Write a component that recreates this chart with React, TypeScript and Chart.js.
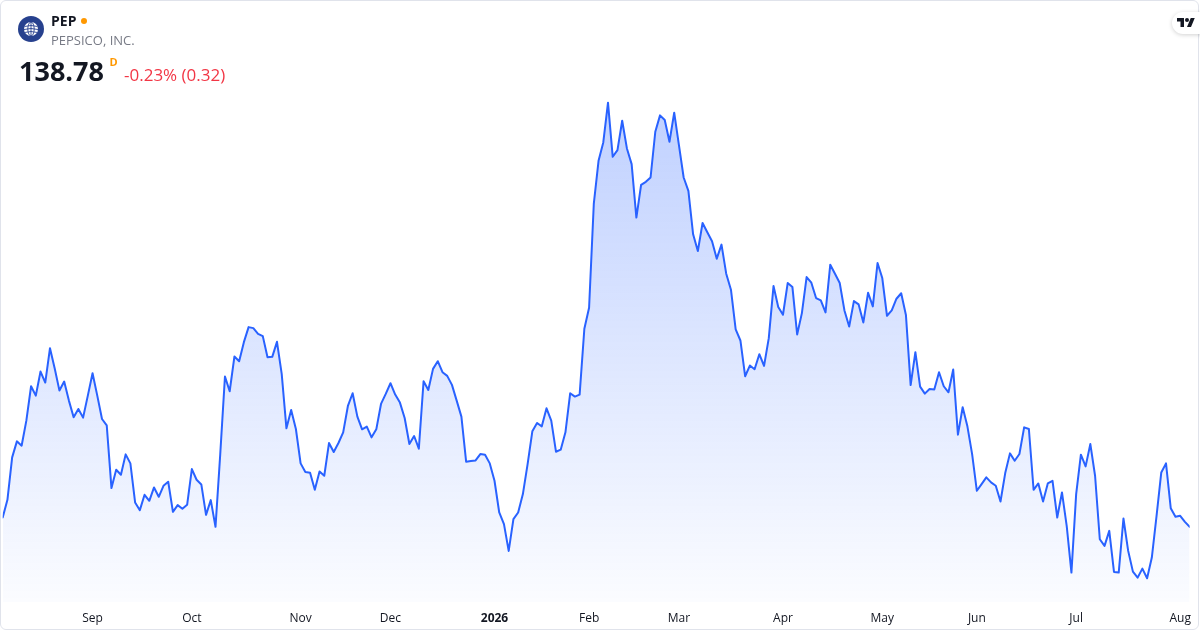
import React, { useEffect, useRef } from "react";
import { Chart, registerables } from "chart.js";

Chart.register(...registerables);

// Daily closes (Aug 2025 – Aug 2026)
const closes: number[] = [
  139.34, 140.40, 142.94, 143.90, 143.64, 145.14, 147.20, 146.64, 148.08, 147.42,
  149.48, 148.26, 146.94, 147.48, 146.34, 145.34, 145.84, 145.32, 146.64, 147.98,
  146.64, 145.24, 144.86, 141.10, 142.20, 141.90, 143.12, 142.58, 140.24, 139.78,
  140.70, 140.34, 141.14, 140.58, 141.24, 141.48, 139.68, 140.08, 139.86, 140.10,
  142.24, 141.60, 141.32, 139.50, 140.38, 138.78, 143.12, 147.78, 146.90, 148.98,
  148.70, 149.84, 150.74, 150.68, 150.34, 150.20, 148.94, 148.96, 149.86, 147.94,
  144.68, 145.78, 144.64, 142.58, 142.06, 142.02, 141.00, 142.10, 141.84, 143.80,
  143.26, 143.80, 144.44, 146.02, 146.78, 145.38, 144.62, 144.78, 144.14, 144.62,
  146.14, 146.74, 147.38, 146.70, 146.22, 145.30, 143.74, 144.22, 143.46, 147.50,
  146.98, 148.24, 148.70, 148.04, 147.82, 147.28, 146.34, 145.38, 142.68, 142.72,
  142.76, 143.14, 143.10, 142.58, 141.54, 139.64, 138.94, 137.34, 139.24, 139.64,
  140.74, 142.54, 144.50, 145.00, 144.80, 145.88, 145.14, 143.28, 143.40, 144.44,
  146.78, 146.58, 146.70, 150.64, 151.90, 158.14, 160.70, 161.80, 164.18, 160.94,
  161.34, 163.10, 161.44, 160.50, 157.30, 159.26, 159.44, 159.70, 162.44, 163.42,
  163.14, 161.84, 163.58, 161.64, 159.70, 158.90, 156.30, 155.30, 156.98, 156.42,
  155.88, 154.84, 155.68, 153.94, 152.98, 150.60, 149.94, 147.80, 148.44, 148.22,
  149.12, 148.42, 150.08, 153.20, 151.94, 151.48, 153.38, 153.14, 150.30, 151.58,
  153.74, 153.40, 152.48, 152.34, 151.62, 154.48, 153.94, 153.38, 151.74, 150.78,
  152.30, 152.10, 151.02, 152.80, 151.98, 154.58, 153.68, 151.42, 151.74, 152.44,
  152.77, 151.47, 147.27, 149.24, 147.18, 146.76, 147.04, 147.00, 148.04, 147.20,
  146.84, 148.20, 144.30, 145.94, 144.80, 143.14, 140.94, 141.34, 141.74, 141.44,
  141.24, 140.30, 142.00, 143.18, 142.74, 143.14, 144.74, 144.64, 141.00, 141.38,
  140.30, 141.38, 141.54, 139.34, 140.84, 138.84, 136.04, 140.74, 143.10, 142.40,
  143.74, 141.84, 138.04, 137.64, 138.54, 136.08, 136.04, 139.28, 137.34, 136.10,
  135.74, 136.28, 135.70, 136.94, 139.44, 142.04, 142.58, 139.90, 139.38, 139.44,
  139.08, 138.78,
];

// Index of the first trading day of each month, and its label
const monthTickIndex: number[] = [19, 40, 63, 82, 104, 124, 143, 165, 186, 206, 227, 249];
const monthTickLabels: string[] = ["Sep", "Oct", "Nov", "Dec", "2026", "Feb", "Mar", "Apr", "May", "Jun", "Jul", "Aug"];
const yearTickLabels: string[] = ["2026"];

const symbol = "PEP";
const companyName = "PEPSICO, INC.";
const lastPrice = "138.78";
const intervalMark = "D";
const changeText = "-0.23% (0.32)";

const FONT = "'Open Sans', 'Noto Sans', sans-serif";

export default function App() {
  const canvasRef = useRef<HTMLCanvasElement>(null);

  useEffect(() => {
    document.body.style.margin = "0";
    const canvas = canvasRef.current;
    if (!canvas) return;
    const chart = new Chart(canvas, {
      type: "line",
      data: {
        datasets: [
          {
            data: closes.map((v, i) => ({ x: i, y: v })),
            borderColor: "#2962ff",
            borderWidth: 2,
            borderJoinStyle: "round",
            borderCapStyle: "round",
            pointRadius: 0,
            pointHoverRadius: 0,
            tension: 0,
            fill: "start",
            backgroundColor: (ctx: any) => {
              const c = ctx.chart;
              const area = c.chartArea;
              if (!area) return "rgba(41,98,255,0.1)";
              const g = c.ctx.createLinearGradient(0, area.top, 0, area.bottom);
              g.addColorStop(0, "rgba(41,98,255,0.30)");
              g.addColorStop(1, "rgba(41,98,255,0.02)");
              return g;
            },
          },
        ],
      },
      options: {
        animation: false,
        responsive: false,
        maintainAspectRatio: false,
        layout: { padding: { left: 2.7, right: 9, top: 90, bottom: 5.6 } },
        plugins: { legend: { display: false }, tooltip: { enabled: false } },
        scales: {
          x: {
            type: "linear",
            min: 0,
            max: closes.length - 1,
            grid: { display: false, drawTicks: false },
            border: { display: false },
            afterBuildTicks: (scale: any) => {
              scale.ticks = monthTickIndex.map((v) => ({ value: v }));
            },
            ticks: {
              autoSkip: false,
              maxRotation: 0,
              padding: 9,
              color: "#131722",
              font: (ctx: any) => {
                const k = monthTickIndex.indexOf(ctx.tick ? ctx.tick.value : -1);
                const bold = k >= 0 && yearTickLabels.includes(monthTickLabels[k]);
                return { family: FONT, size: 12, weight: bold ? "bold" : "normal" };
              },
              callback: (v: any) => {
                const k = monthTickIndex.indexOf(Number(v));
                return k >= 0 ? monthTickLabels[k] : "";
              },
            },
          },
          y: { display: false, min: 134.28, max: 164.94 },
        },
      },
    } as any);
    return () => chart.destroy();
  }, []);

  return (
    <div style={{ position: "fixed", left: 0, top: 0, width: 1200, height: 630, background: "#fff", fontFamily: FONT, overflow: "hidden" }}>
      <canvas ref={canvasRef} width={1200} height={640} style={{ position: "absolute", left: 0, top: 0, width: 1200, height: 640 }} />
      <div style={{ position: "absolute", left: 0, top: 0, width: 1199, height: 630, boxSizing: "border-box", border: "1px solid #e0e3eb", borderRadius: 6, pointerEvents: "none" }} />
      {/* logo */}
      <svg width={26} height={26} viewBox="0 0 26 26" style={{ position: "absolute", left: 18, top: 16 }}>
        <circle cx={13} cy={13} r={13} fill="#27418e" />
        <circle cx={13} cy={13} r={7} fill="#ffffff" />
        <g stroke="#27418e" strokeWidth={0.9} fill="none">
          <ellipse cx={13} cy={13} rx={3.2} ry={7} />
          <line x1={13} y1={6} x2={13} y2={20} />
          <path d="M6.5 10.5 Q13 8.5 19.5 10.5" />
          <path d="M6 13.5 Q13 11.5 20 13.5" />
          <path d="M6.5 16.5 Q13 14.5 19.5 16.5" />
        </g>
      </svg>
      <div style={{ position: "absolute", left: 51, top: 13.6, fontSize: 14, lineHeight: "14px", fontWeight: 700, color: "#131722", whiteSpace: "nowrap" }}>{symbol}</div>
      <div style={{ position: "absolute", left: 81, top: 18, width: 6, height: 6, borderRadius: 3, background: "#ff9800" }} />
      <div style={{ position: "absolute", left: 51, top: 33.8, fontSize: 13, lineHeight: "13px", color: "#787b86", whiteSpace: "nowrap" }}>{companyName}</div>
      <div style={{ position: "absolute", left: 19, top: 57, fontSize: 27, lineHeight: "27px", fontWeight: 700, color: "#131722", whiteSpace: "nowrap" }}>{lastPrice}</div>
      <div style={{ position: "absolute", left: 109.5, top: 55.9, fontSize: 11, lineHeight: "11px", fontWeight: 700, color: "#ff9800", whiteSpace: "nowrap" }}>{intervalMark}</div>
      <div style={{ position: "absolute", left: 124, top: 65.9, fontSize: 17, lineHeight: "17px", color: "#f23645", whiteSpace: "nowrap" }}>{changeText}</div>
      {/* TradingView badge */}
      <div style={{ position: "absolute", left: 1172, top: 12, width: 40, height: 22, borderRadius: 11, background: "#fff", boxShadow: "0 1px 4px rgba(0,0,0,0.18)" }}>
        <svg width={18} height={14} viewBox="0 0 36 28" style={{ position: "absolute", left: 5, top: 4 }}>
          <path d="M14 22H7V11H0V4h14v18zM28 22h-8l7.5-18h8L28 22z" fill="#131722" />
          <circle cx={20} cy={8} r={4} fill="#131722" />
        </svg>
      </div>
    </div>
  );
}
